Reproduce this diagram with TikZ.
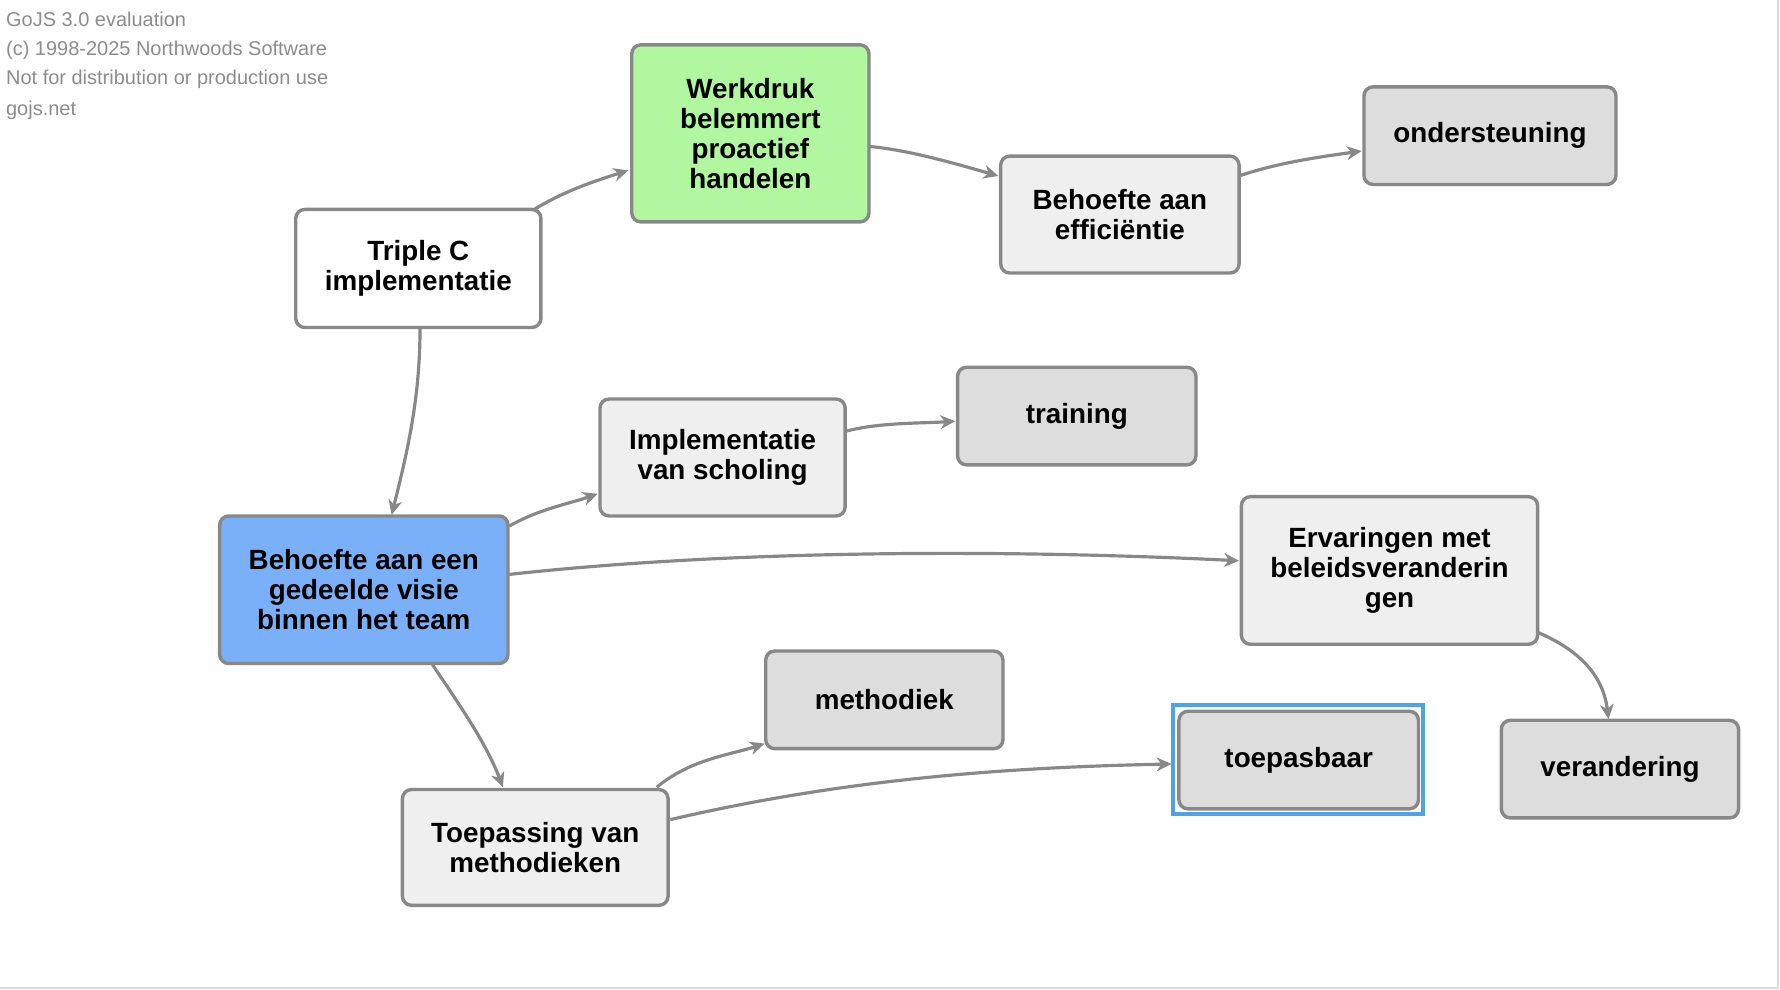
\documentclass[tikz,border=0pt]{standalone}
\usepackage{fontspec}
\setmainfont{Liberation Sans}
\usetikzlibrary{arrows.meta,calc}
\definecolor{edgegray}{RGB}{136,136,136}
\definecolor{wmgray}{RGB}{140,140,140}
\definecolor{fillgreen}{RGB}{176,247,160}
\definecolor{fillblue}{RGB}{122,176,250}
\definecolor{filllight}{RGB}{239,239,239}
\definecolor{filldark}{RGB}{221,221,221}
\definecolor{selblue}{RGB}{77,163,232}
\definecolor{framegray}{RGB}{220,220,220}
\begin{document}
\begin{tikzpicture}[x=0.5pt,y=-0.5pt,
  box/.style={draw=edgegray, line width=1.5pt, rounded corners=4pt, inner sep=0pt, outer sep=0pt,
    align=center, font=\fontsize{12.25pt}{13.25pt}\selectfont\bfseries},
  link/.style={draw=edgegray, line width=1.4pt, -{Stealth[length=6.5pt,width=6pt,inset=2pt]}},
  wm/.style={anchor=west, inner sep=0pt, text=wmgray, font=\fontsize{8.8pt}{10pt}\selectfont},
  sel/.style={draw=selblue, line width=1.8pt}]
\useasboundingbox (0,0) rectangle (1568,872);
% frame lines
\draw[framegray, line width=0.8pt] (1566,0) -- (1566,870) -- (0,870);
% watermark
\node[wm] (wm1) at (5,17) {GoJS 3.0 evaluation};
\node[wm] (wm2) at (5,44) {(c) 1998-2025 Northwoods Software};
\node[wm] (wm3) at (5,70) {Not for distribution or production use};
\node[wm] (wm4) at (5,97) {gojs.net};
% nodes
\node[box, fill=fillgreen, minimum width=104.5pt, minimum height=78pt] (werk) at (661,117.5) {Werkdruk\\belemmert\\proactief\\handelen};
\node[box, fill=white, minimum width=108pt, minimum height=52pt] (triple) at (368.5,236.5) {Triple C\\implementatie};
\node[box, fill=filllight, minimum width=105pt, minimum height=51.5pt] (effic) at (986.5,189) {Behoefte aan\\efficiëntie};
\node[box, fill=filldark, minimum width=111pt, minimum height=43pt] (onder) at (1312.5,119.5) {ondersteuning};
\node[box, fill=filllight, minimum width=108pt, minimum height=51.5pt] (schol) at (636.5,403) {Implementatie\\van scholing};
\node[box, fill=filldark, minimum width=105pt, minimum height=43pt] (train) at (948.5,366.5) {training};
\node[box, fill=fillblue, minimum width=127pt, minimum height=65pt] (visie) at (320.5,519.5) {Behoefte aan een\\gedeelde visie\\binnen het team};
\node[box, fill=filllight, minimum width=130.5pt, minimum height=65pt] (erv) at (1224,502.5) {Ervaringen met\\beleidsveranderin\\gen};
\node[box, fill=filldark, minimum width=104.5pt, minimum height=43pt] (meth) at (779,616.5) {methodiek};
\node[box, fill=filldark, minimum width=105.5pt, minimum height=43pt] (toep) at (1144,669.5) {toepasbaar};
\node[box, fill=filldark, minimum width=104.5pt, minimum height=43pt] (veran) at (1427,677.5) {verandering};
\node[box, fill=filllight, minimum width=117pt, minimum height=51pt] (toepass) at (471.5,746.5) {Toepassing van\\methodieken};
% selection
\draw[sel] ($(toep.north west)+(-5,-5.5)$) rectangle ($(toep.south east)+(4,4.5)$);
% links
\draw[link] ($(triple.north east)+(-6,0)$) .. controls +(28,-17) and +(-28,9) .. ($(werk.west)+(-3,32.5)$);
\draw[link] ($(werk.east)+(0,11.5)$) .. controls +(35,3) and +(-35,-10) .. ($(effic.west)+(-2,-34)$);
\draw[link] ($(effic.east)+(0,-34)$) .. controls +(35,-12) and +(-35,5) .. ($(onder.west)+(-2,13.5)$);
\draw[link] ($(triple.south)+(1.5,0)$) .. controls +(0,60) and +(15,-60) .. ($(visie.north)+(24.5,-1)$);
\draw[link] ($(visie.north east)+(1,9)$) .. controls +(26,-15) and +(-26,9) .. ($(schol.west)+(-2,32)$);
\draw[link] ($(schol.east)+(0,-23)$) .. controls +(30,-8) and +(-30,2) .. ($(train.west)+(-2,4.5)$);
\draw[link] ($(visie.east)+(1,-13.5)$) .. controls +(200,-22) and +(-200,-10) .. ($(erv.west)+(-2,-8.5)$);
\draw[link] ($(erv.east)+(0,54.5)$) .. controls +(35,15) and +(-5,-40) .. ($(veran.north)+(-10,-1)$);
\draw[link] ($(visie.south)+(60.5,1)$) .. controls +(20,30) and +(-15,-40) .. ($(toepass.north)+(-28.5,-2)$);
\draw[link] ($(toepass.north east)+(-10,-2)$) .. controls +(30,-25) and +(-30,10) .. ($(meth.west)+(-1,38.5)$);
\draw[link] ($(toepass.east)+(2,-24.5)$) .. controls +(150,-35) and +(-150,3) .. ($(toep.west)+(-6.5,3.5)$);
\end{tikzpicture}
\end{document}
